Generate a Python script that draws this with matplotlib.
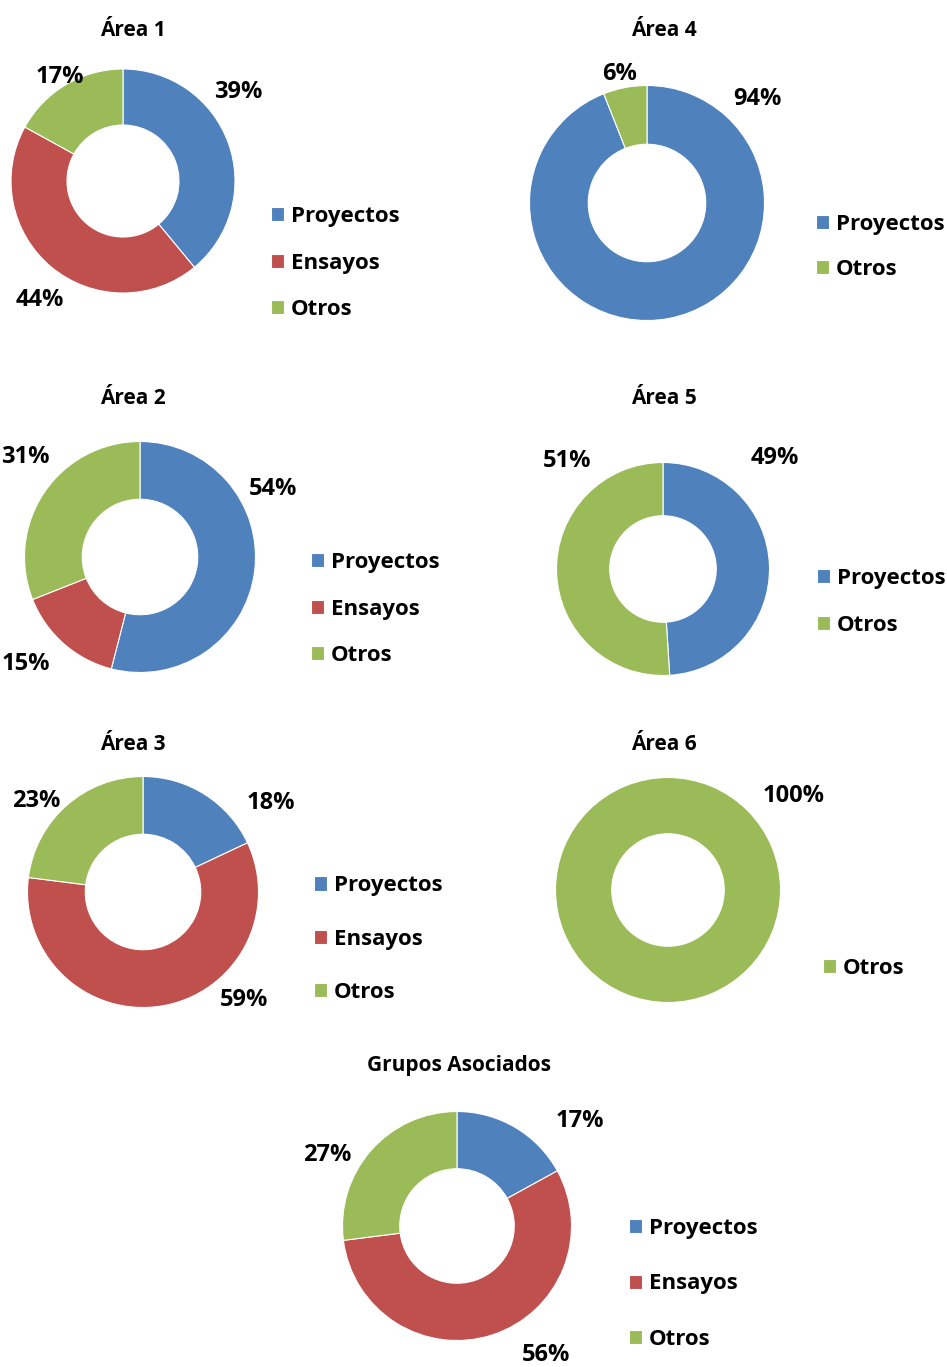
import matplotlib
matplotlib.use("Agg")
import matplotlib.pyplot as plt

plt.rcParams['font.family'] = ['Open Sans', 'DejaVu Sans']

W, H = 947, 1367
BLUE, RED, GREEN = '#4F81BD', '#C0504D', '#9BBB59'
COLORS = {'Proyectos': BLUE, 'Ensayos': RED, 'Otros': GREEN}

# ---- data ----
titles = ['Área 1', 'Área 4', 'Área 2', 'Área 5', 'Área 3', 'Área 6', 'Grupos Asociados']
cats_a1 = ['Proyectos', 'Ensayos', 'Otros']
vals_a1 = [39, 44, 17]
cats_a4 = ['Proyectos', 'Otros']
vals_a4 = [94, 6]
cats_a2 = ['Proyectos', 'Ensayos', 'Otros']
vals_a2 = [54, 15, 31]
cats_a5 = ['Proyectos', 'Otros']
vals_a5 = [49, 51]
cats_a3 = ['Proyectos', 'Ensayos', 'Otros']
vals_a3 = [18, 59, 23]
cats_a6 = ['Otros']
vals_a6 = [100]
cats_g = ['Proyectos', 'Ensayos', 'Otros']
vals_g = [17, 56, 27]

# ---- layout (pixel positions) ----
charts = [
    dict(cats=cats_a1, vals=vals_a1, c=(123, 181), r=112, title=(133, 28),
         lab=[(238, 90), (40, 298), (60, 75)], leg=(271, 262), sp=1.15),
    dict(cats=cats_a4, vals=vals_a4, c=(647, 203), r=117.5, title=(664, 28),
         lab=[(757, 97), (620, 72)], leg=(816, 246), sp=1.1),
    dict(cats=cats_a2, vals=vals_a2, c=(140, 557), r=115.5, title=(133, 396),
         lab=[(273, 487), (26, 662), (25, 455)], leg=(311, 608), sp=1.15),
    dict(cats=cats_a5, vals=vals_a5, c=(663, 569), r=106.5, title=(664, 396),
         lab=[(775, 456), (567, 459)], leg=(817, 601), sp=1.15),
    dict(cats=cats_a3, vals=vals_a3, c=(143, 892), r=115.5, title=(133, 742),
         lab=[(271, 801), (244, 998), (36, 799)], leg=(314, 938), sp=1.45),
    dict(cats=cats_a6, vals=vals_a6, c=(668, 890), r=112.5, title=(664, 742),
         lab=[(794, 794)], leg=(823, 967), sp=1.15),
    dict(cats=cats_g, vals=vals_g, c=(457, 1226), r=114.5, title=(459, 1064),
         lab=[(580, 1119), (546, 1353), (327, 1153)], leg=(629, 1283), sp=1.55),
]

fig = plt.figure(figsize=(W / 100, H / 100), dpi=100)
fig.patch.set_facecolor('white')

def fx(x):
    return x / W

def fy(y):
    return 1 - y / H

FS_LEG = 16
FS_LAB = 17
FS_TTL = 15
for t, ch in zip(titles, charts):
    cx, cy = ch['c']
    r = ch['r']
    ax = fig.add_axes([fx(cx - r), fy(cy + r), 2 * r / W, 2 * r / H])
    wedges, _ = ax.pie(ch['vals'], colors=[COLORS[c] for c in ch['cats']],
                       startangle=90, counterclock=False, radius=1,
                       wedgeprops=dict(width=0.5, edgecolor='white', linewidth=0.8))
    ax.set_xlim(-1, 1)
    ax.set_ylim(-1, 1)
    ax.set_aspect('equal')
    ax.axis('off')
    fig.text(fx(ch['title'][0]), fy(ch['title'][1] + 2), t, ha='center', va='center',
             fontsize=FS_TTL, fontweight='bold', color='black')
    for (lx, ly), v in zip(ch['lab'], ch['vals']):
        fig.text(fx(lx), fy(ly + 2), f'{v}%', ha='center', va='center',
                 fontsize=FS_LAB, fontweight='bold', color='black')
    lgx, lgy = ch['leg']
    ax.legend(wedges, ch['cats'], loc='center left',
              bbox_to_anchor=(fx(lgx), fy(lgy + 1)), bbox_transform=fig.transFigure,
              frameon=False, handlelength=0.6, handleheight=0.6,
              handletextpad=0.3, labelspacing=ch['sp'], borderpad=0,
              borderaxespad=0, prop=dict(size=FS_LEG, weight='bold'))

fig.savefig('out.png', dpi=100, facecolor='white')
